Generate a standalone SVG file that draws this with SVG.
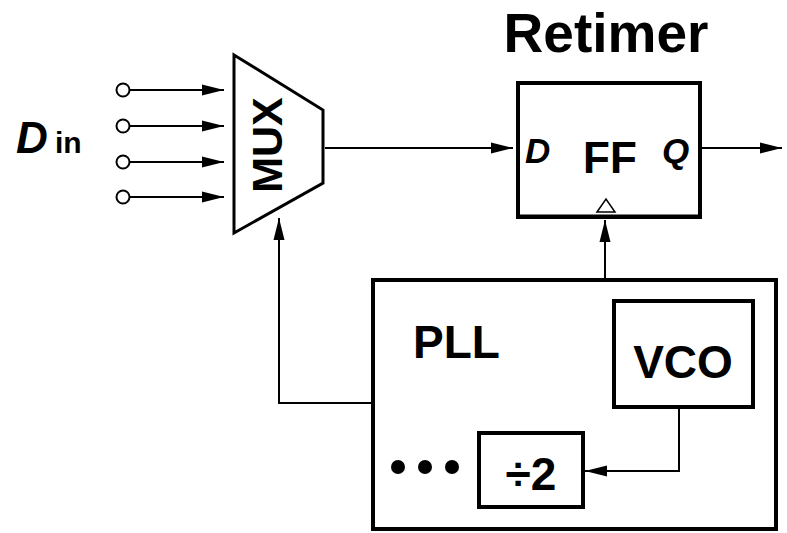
<svg xmlns="http://www.w3.org/2000/svg" width="787" height="533" viewBox="0 0 787 533">
<defs>
<marker id="ah" markerUnits="userSpaceOnUse" markerWidth="22" markerHeight="12" refX="22" refY="6" orient="auto">
<path d="M0,0.5 L22,6 L0,11.5 Z" fill="#000"/>
</marker>
<style>
.w{fill:none;stroke:#000;stroke-width:2}
.b{fill:#fff;stroke:#000;stroke-width:4}
.t{font-family:"Liberation Sans",Arial,sans-serif;font-weight:bold;fill:#000}
</style>
</defs>
<rect width="787" height="533" fill="#fff"/>
<g id="din">
<circle class="w" cx="123" cy="90" r="6.5" fill="#fff"/>
<circle class="w" cx="123" cy="126" r="6.5" fill="#fff"/>
<circle class="w" cx="123" cy="162" r="6.5" fill="#fff"/>
<circle class="w" cx="123" cy="197" r="6.5" fill="#fff"/>
<text class="t" x="16" y="153" font-size="44" font-style="italic">D</text>
<text class="t" x="55" y="153" font-size="30">in</text>
</g>
<g id="mux">
<polygon points="234,55 323,110 323,183 234,233" fill="#fff" stroke="#000" stroke-width="3"/>
<text class="t" x="0" y="0" font-size="43" text-anchor="middle" transform="translate(282,145) rotate(-90)">MUX</text>
</g>
<g id="retimer">
<text class="t" x="606" y="52" font-size="55" text-anchor="middle">Retimer</text>
<rect class="b" x="518" y="83" width="182" height="134"/>
<line x1="516" y1="216" x2="702" y2="216" stroke="#000" stroke-width="3"/>
<polygon points="597,212 606,199 615,212" fill="#fff" stroke="#000" stroke-width="1.5"/>
<text class="t" x="525" y="163" font-size="35" font-style="italic">D</text>
<text class="t" x="610" y="173" font-size="44" text-anchor="middle">FF</text>
<text class="t" x="662" y="163" font-size="35" font-style="italic">Q</text>
</g>
<g id="pll">
<rect class="b" x="373" y="280" width="403" height="249"/>
<text class="t" x="413" y="358" font-size="46">PLL</text>
<circle cx="398" cy="467" r="7"/>
<circle cx="425" cy="467" r="7"/>
<circle cx="452" cy="467" r="7"/>
</g>
<g id="vco">
<rect class="b" x="614" y="301" width="139" height="106"/>
<text class="t" x="683" y="378" font-size="46" text-anchor="middle">VCO</text>
</g>
<g id="div2">
<rect class="b" x="479" y="433" width="104" height="74"/>
<text class="t" x="531" y="490" font-size="46" text-anchor="middle">÷2</text>
</g>
<g id="connectors">
<line class="w" x1="130" y1="90" x2="224" y2="90" marker-end="url(#ah)"/>
<line class="w" x1="130" y1="126" x2="224" y2="126" marker-end="url(#ah)"/>
<line class="w" x1="130" y1="162" x2="224" y2="162" marker-end="url(#ah)"/>
<line class="w" x1="130" y1="197" x2="224" y2="197" marker-end="url(#ah)"/>
<line class="w" x1="325" y1="148" x2="513" y2="148" marker-end="url(#ah)"/>
<line class="w" x1="702" y1="148" x2="782" y2="148" marker-end="url(#ah)"/>
<line class="w" x1="605" y1="278" x2="605" y2="220" marker-end="url(#ah)"/>
<polyline class="w" points="371,403 279,403 279,218" marker-end="url(#ah)"/>
<polyline class="w" points="679,409 679,471 585,471" marker-end="url(#ah)"/>
</g>
</svg>
